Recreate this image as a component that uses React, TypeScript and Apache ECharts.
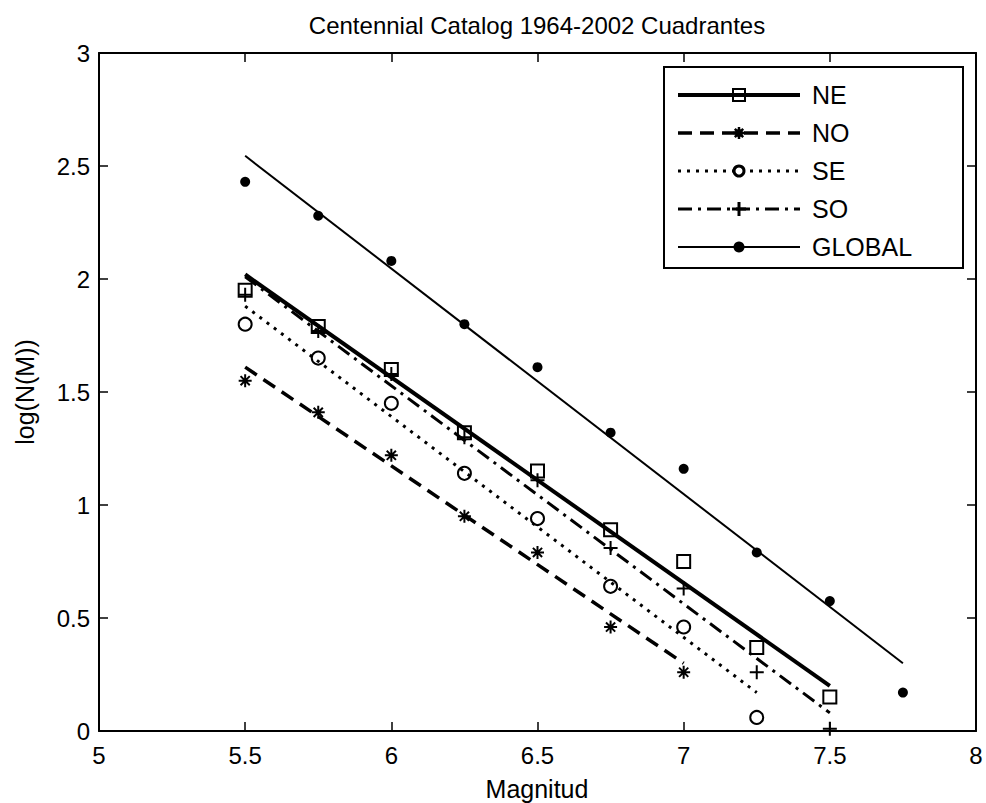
import React, { useEffect, useRef } from "react";
import * as echarts from "echarts";

// Magnitudes (x) of the observed points
const MAG = [5.5, 5.75, 6, 6.25, 6.5, 6.75, 7, 7.25, 7.5, 7.75];

// Observed log(N(M)) per quadrant
const NE_OBS = [1.95, 1.79, 1.6, 1.32, 1.15, 0.89, 0.75, 0.37, 0.15];
const NO_OBS = [1.55, 1.41, 1.22, 0.95, 0.79, 0.46, 0.26];
const SE_OBS = [1.8, 1.65, 1.45, 1.14, 0.94, 0.64, 0.46, 0.06];
const SO_OBS = [1.93, 1.77, 1.58, 1.3, 1.11, 0.81, 0.63, 0.26, 0.01];
const GLOBAL_OBS = [2.43, 2.28, 2.08, 1.8, 1.61, 1.32, 1.16, 0.79, 0.575, 0.17];

// Fitted lines (start / end)
const NE_FIT_X = [5.5, 7.5];
const NE_FIT_Y = [2.02, 0.2];
const NO_FIT_X = [5.5, 7.0];
const NO_FIT_Y = [1.61, 0.3];
const SE_FIT_X = [5.5, 7.25];
const SE_FIT_Y = [1.88, 0.17];
const SO_FIT_X = [5.5, 7.5];
const SO_FIT_Y = [2.01, 0.08];
const GLOBAL_FIT_X = [5.5, 7.75];
const GLOBAL_FIT_Y = [2.545, 0.3];

const LEGEND_NAMES = ["NE", "NO", "SE", "SO", "GLOBAL"];

const FONT = "Liberation Sans, Arial, Helvetica, sans-serif";

const zip = (xs: number[], ys: number[]) => ys.map((y, i) => [xs[i], y]);

const PLUS = "path://M0,-10L0,10M-10,0L10,0";
const STAR =
  "path://M0,-10L0,10M-10,0L10,0M-7.07,-7.07L7.07,7.07M-7.07,7.07L7.07,-7.07";

const DASH_NO = [14, 8];
const DASH_SE = [3, 6];
const DASH_SO = [14, 6, 3, 6];

export default function App() {
  const ref = useRef<HTMLDivElement>(null);

  useEffect(() => {
    if (!ref.current) return;
    const chart = echarts.init(ref.current, undefined, { renderer: "svg" });

    const scatter = (name: string, ys: number[], symbol: string, size: number, filled = false) => ({
      name: name + "_obs",
      type: "scatter",
      xAxisIndex: 0,
      yAxisIndex: 0,
      data: zip(MAG, ys),
      symbol,
      symbolSize: size,
      itemStyle: filled
        ? { color: "#000", borderColor: "#000", borderWidth: 0, opacity: 1 }
        : { color: "none", borderColor: "#000", borderWidth: 2, opacity: 1 },
      emphasis: { disabled: true },
      z: 3,
    });

    const fit = (name: string, xs: number[], ys: number[], width: number, type: any) => ({
      name: name + "_fit",
      type: "line",
      xAxisIndex: 0,
      yAxisIndex: 0,
      data: zip(xs, ys),
      showSymbol: false,
      symbol: "none",
      lineStyle: { color: "#000", width, type, cap: "butt" },
      emphasis: { disabled: true },
      z: 2,
    });

    // Legend graphics
    const lx1 = 678;
    const lx2 = 800;
    const mx = 739;
    const tx = 812;
    const rows = [95, 133, 171, 209, 247];
    const legendEls: any[] = [
      {
        type: "rect",
        shape: { x: 664, y: 67, width: 299, height: 201 },
        style: { fill: "#fff", stroke: "#000", lineWidth: 2 },
        z: 10,
      },
    ];
    const lineStyles = [
      { w: 4, dash: null },
      { w: 3.5, dash: DASH_NO },
      { w: 3, dash: DASH_SE },
      { w: 3, dash: DASH_SO },
      { w: 2, dash: null },
    ];
    rows.forEach((y, i) => {
      const ls = lineStyles[i];
      legendEls.push({
        type: "line",
        shape: { x1: lx1, y1: y, x2: lx2, y2: y },
        style: { stroke: "#000", lineWidth: ls.w, lineDash: ls.dash || undefined },
        z: 11,
      });
      legendEls.push({
        type: "text",
        x: tx,
        y,
        style: {
          text: LEGEND_NAMES[i],
          font: `25px ${FONT}`,
          fill: "#000",
          textAlign: "left",
          textVerticalAlign: "middle",
        },
        z: 11,
      });
    });
    // NE square
    legendEls.push({
      type: "rect",
      shape: { x: mx - 6, y: rows[0] - 6, width: 12, height: 12 },
      style: { fill: "none", stroke: "#000", lineWidth: 2 },
      z: 12,
    });
    // NO asterisk
    const s = 6;
    [
      [0, -s, 0, s],
      [-s, 0, s, 0],
      [-s * 0.7, -s * 0.7, s * 0.7, s * 0.7],
      [-s * 0.7, s * 0.7, s * 0.7, -s * 0.7],
    ].forEach(([a, b, c, d]) =>
      legendEls.push({
        type: "line",
        shape: { x1: mx + a, y1: rows[1] + b, x2: mx + c, y2: rows[1] + d },
        style: { stroke: "#000", lineWidth: 2.5 },
        z: 12,
      })
    );
    legendEls.push({
      type: "circle",
      shape: { cx: mx, cy: rows[1], r: 4 },
      style: { fill: "#000" },
      z: 12,
    });
    // SE circle
    legendEls.push({
      type: "circle",
      shape: { cx: mx, cy: rows[2], r: 5 },
      style: { fill: "#fff", stroke: "#000", lineWidth: 3 },
      z: 12,
    });
    // SO plus
    [
      [0, -7, 0, 7],
      [-7, 0, 7, 0],
    ].forEach(([a, b, c, d]) =>
      legendEls.push({
        type: "line",
        shape: { x1: mx + a, y1: rows[3] + b, x2: mx + c, y2: rows[3] + d },
        style: { stroke: "#000", lineWidth: 3 },
        z: 12,
      })
    );
    // GLOBAL dot
    legendEls.push({
      type: "circle",
      shape: { cx: mx, cy: rows[4], r: 5.5 },
      style: { fill: "#000" },
      z: 12,
    });

    const axisCommon = {
      type: "value",
      axisLine: { show: true, onZero: false, lineStyle: { color: "#000", width: 2 } },
      axisTick: { show: true, inside: true, length: 9, lineStyle: { color: "#000", width: 1.5 } },
      splitLine: { show: false },
    };

    chart.setOption({
      animation: false,
      backgroundColor: "#fff",
      grid: { left: 99, right: 10, top: 53, bottom: 72, containLabel: false },
      xAxis: [
        {
          ...axisCommon,
          position: "bottom",
          min: 5,
          max: 8,
          interval: 0.5,
          axisLabel: { color: "#000", fontSize: 24, fontFamily: FONT, margin: 12 },
        },
        {
          ...axisCommon,
          position: "top",
          min: 5,
          max: 8,
          interval: 0.5,
          axisLabel: { show: false },
        },
      ],
      yAxis: [
        {
          ...axisCommon,
          position: "left",
          min: 0,
          max: 3,
          interval: 0.5,
          axisLabel: { color: "#000", fontSize: 24, fontFamily: FONT, margin: 9 },
        },
        {
          ...axisCommon,
          position: "right",
          min: 0,
          max: 3,
          interval: 0.5,
          axisLabel: { show: false },
        },
      ],
      series: [
        fit("NE", NE_FIT_X, NE_FIT_Y, 4, "solid"),
        fit("NO", NO_FIT_X, NO_FIT_Y, 3.5, DASH_NO),
        fit("SE", SE_FIT_X, SE_FIT_Y, 3, DASH_SE),
        fit("SO", SO_FIT_X, SO_FIT_Y, 3, DASH_SO),
        fit("GLOBAL", GLOBAL_FIT_X, GLOBAL_FIT_Y, 2, "solid"),
        scatter("NE", NE_OBS, "rect", 13),
        scatter("NO", NO_OBS, STAR, 13),
        scatter("SE", SE_OBS, "circle", 13),
        scatter("SO", SO_OBS, PLUS, 14),
        scatter("GLOBAL", GLOBAL_OBS, "circle", 10, true),
      ],
      graphic: [
        {
          type: "text",
          x: 537,
          y: 25,
          style: {
            text: "Centennial Catalog 1964-2002 Cuadrantes",
            font: `24px ${FONT}`,
            fill: "#000",
            textAlign: "center",
            textVerticalAlign: "middle",
          },
        },
        {
          type: "text",
          x: 537,
          y: 789,
          style: {
            text: "Magnitud",
            font: `25px ${FONT}`,
            fill: "#000",
            textAlign: "center",
            textVerticalAlign: "middle",
          },
        },
        {
          type: "text",
          x: 25,
          y: 392,
          rotation: Math.PI / 2,
          style: {
            text: "log(N(M))",
            font: `25px ${FONT}`,
            fill: "#000",
            textAlign: "center",
            textVerticalAlign: "middle",
          },
        },
        ...legendEls,
      ],
    });

    return () => chart.dispose();
  }, []);

  return (
    <div
      ref={ref}
      style={{ position: "fixed", left: 0, top: 0, width: 986, height: 803, background: "#fff" }}
    />
  );
}
